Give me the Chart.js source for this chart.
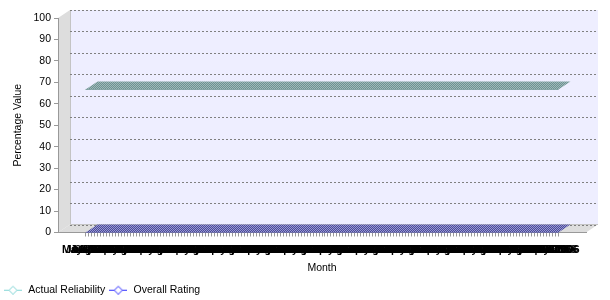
<!DOCTYPE html>
<html lang="en">
<head>
  <meta charset="UTF-8">
  <title>Actual Reliability vs Overall Rating</title>
  <script src="https://cdn.jsdelivr.net/npm/chart.js"></script>
  <style>
    html, body { margin: 0; padding: 0; background: #fff; }
  </style>
</head>
<body>
<canvas id="chart" width="610" height="300"></canvas>
<script>
  // Categories (one per month)
  const months = [
    'May-1993', 'Jun-1993', 'Jul-1993', 'Aug-1993', 'Sep-1993', 'Oct-1993', 'Nov-1993', 'Dec-1993',
    'Jan-1994', 'Feb-1994', 'Mar-1994', 'Apr-1994', 'May-1994', 'Jun-1994', 'Jul-1994', 'Aug-1994', 'Sep-1994', 'Oct-1994', 'Nov-1994', 'Dec-1994',
    'Jan-1995', 'Feb-1995', 'Mar-1995', 'Apr-1995', 'May-1995', 'Jun-1995', 'Jul-1995', 'Aug-1995', 'Sep-1995', 'Oct-1995', 'Nov-1995', 'Dec-1995',
    'Jan-1996', 'Feb-1996', 'Mar-1996', 'Apr-1996', 'May-1996', 'Jun-1996', 'Jul-1996', 'Aug-1996', 'Sep-1996', 'Oct-1996', 'Nov-1996', 'Dec-1996',
    'Jan-1997', 'Feb-1997', 'Mar-1997', 'Apr-1997', 'May-1997', 'Jun-1997', 'Jul-1997', 'Aug-1997', 'Sep-1997', 'Oct-1997', 'Nov-1997', 'Dec-1997',
    'Jan-1998', 'Feb-1998', 'Mar-1998', 'Apr-1998', 'May-1998', 'Jun-1998', 'Jul-1998', 'Aug-1998', 'Sep-1998', 'Oct-1998', 'Nov-1998', 'Dec-1998',
    'Jan-1999', 'Feb-1999', 'Mar-1999', 'Apr-1999', 'May-1999', 'Jun-1999', 'Jul-1999', 'Aug-1999', 'Sep-1999', 'Oct-1999', 'Nov-1999', 'Dec-1999',
    'Jan-2000', 'Feb-2000', 'Mar-2000', 'Apr-2000', 'May-2000', 'Jun-2000', 'Jul-2000', 'Aug-2000', 'Sep-2000', 'Oct-2000', 'Nov-2000', 'Dec-2000',
    'Jan-2001', 'Feb-2001', 'Mar-2001', 'Apr-2001', 'May-2001', 'Jun-2001', 'Jul-2001', 'Aug-2001', 'Sep-2001', 'Oct-2001', 'Nov-2001', 'Dec-2001',
    'Jan-2002', 'Feb-2002', 'Mar-2002', 'Apr-2002', 'May-2002', 'Jun-2002', 'Jul-2002', 'Aug-2002', 'Sep-2002', 'Oct-2002', 'Nov-2002', 'Dec-2002',
    'Jan-2003', 'Feb-2003', 'Mar-2003', 'Apr-2003', 'May-2003', 'Jun-2003', 'Jul-2003', 'Aug-2003', 'Sep-2003', 'Oct-2003', 'Nov-2003', 'Dec-2003',
    'Jan-2004', 'Feb-2004', 'Mar-2004', 'Apr-2004', 'May-2004', 'Jun-2004', 'Jul-2004', 'Aug-2004', 'Sep-2004', 'Oct-2004', 'Nov-2004', 'Dec-2004',
    'Jan-2005', 'Feb-2005', 'Mar-2005', 'Apr-2005', 'May-2005', 'Jun-2005', 'Jul-2005', 'Aug-2005', 'Sep-2005', 'Oct-2005', 'Nov-2005', 'Dec-2005',
    'Jan-2006', 'Feb-2006', 'Mar-2006', 'Apr-2006', 'May-2006', 'Jun-2006', 'Jul-2006'
  ];

  // Series values (%), same row layout as months
  const actualReliability = [
    66.7, 66.7, 66.7, 66.7, 66.7, 66.7, 66.7, 66.7,
    66.7, 66.7, 66.7, 66.7, 66.7, 66.7, 66.7, 66.7, 66.7, 66.7, 66.7, 66.7,
    66.7, 66.7, 66.7, 66.7, 66.7, 66.7, 66.7, 66.7, 66.7, 66.7, 66.7, 66.7,
    66.7, 66.7, 66.7, 66.7, 66.7, 66.7, 66.7, 66.7, 66.7, 66.7, 66.7, 66.7,
    66.7, 66.7, 66.7, 66.7, 66.7, 66.7, 66.7, 66.7, 66.7, 66.7, 66.7, 66.7,
    66.7, 66.7, 66.7, 66.7, 66.7, 66.7, 66.7, 66.7, 66.7, 66.7, 66.7, 66.7,
    66.7, 66.7, 66.7, 66.7, 66.7, 66.7, 66.7, 66.7, 66.7, 66.7, 66.7, 66.7,
    66.7, 66.7, 66.7, 66.7, 66.7, 66.7, 66.7, 66.7, 66.7, 66.7, 66.7, 66.7,
    66.7, 66.7, 66.7, 66.7, 66.7, 66.7, 66.7, 66.7, 66.7, 66.7, 66.7, 66.7,
    66.7, 66.7, 66.7, 66.7, 66.7, 66.7, 66.7, 66.7, 66.7, 66.7, 66.7, 66.7,
    66.7, 66.7, 66.7, 66.7, 66.7, 66.7, 66.7, 66.7, 66.7, 66.7, 66.7, 66.7,
    66.7, 66.7, 66.7, 66.7, 66.7, 66.7, 66.7, 66.7, 66.7, 66.7, 66.7, 66.7,
    66.7, 66.7, 66.7, 66.7, 66.7, 66.7, 66.7, 66.7, 66.7, 66.7, 66.7, 66.7,
    66.7, 66.7, 66.7, 66.7, 66.7, 66.7, 66.7
  ];
  const overallRating = [
    0, 0, 0, 0, 0, 0, 0, 0,
    0, 0, 0, 0, 0, 0, 0, 0, 0, 0, 0, 0,
    0, 0, 0, 0, 0, 0, 0, 0, 0, 0, 0, 0,
    0, 0, 0, 0, 0, 0, 0, 0, 0, 0, 0, 0,
    0, 0, 0, 0, 0, 0, 0, 0, 0, 0, 0, 0,
    0, 0, 0, 0, 0, 0, 0, 0, 0, 0, 0, 0,
    0, 0, 0, 0, 0, 0, 0, 0, 0, 0, 0, 0,
    0, 0, 0, 0, 0, 0, 0, 0, 0, 0, 0, 0,
    0, 0, 0, 0, 0, 0, 0, 0, 0, 0, 0, 0,
    0, 0, 0, 0, 0, 0, 0, 0, 0, 0, 0, 0,
    0, 0, 0, 0, 0, 0, 0, 0, 0, 0, 0, 0,
    0, 0, 0, 0, 0, 0, 0, 0, 0, 0, 0, 0,
    0, 0, 0, 0, 0, 0, 0, 0, 0, 0, 0, 0,
    0, 0, 0, 0, 0, 0, 0
  ];

  const yMin = 0, yMax = 100, yStep = 10;

  // 3D depth of the plot (back wall offset)
  const DX = 12, DY = -8;
  const FONT = "'Liberation Sans', Arial, sans-serif";

  // legend icon: short line with a hollow diamond
  function legendIcon(color) {
    const c = document.createElement('canvas');
    c.width = 18; c.height = 10;
    const g = c.getContext('2d');
    g.strokeStyle = color;
    g.lineWidth = 1;
    g.beginPath(); g.moveTo(0, 5.5); g.lineTo(18, 5.5); g.stroke();
    g.fillStyle = '#fff';
    g.beginPath();
    g.moveTo(9, 1.5); g.lineTo(13, 5.5); g.lineTo(9, 9.5); g.lineTo(5, 5.5); g.closePath();
    g.fill(); g.stroke();
    return c;
  }

  // dithered fill like the original gif
  function dither(ctx, a, b) {
    const c = document.createElement('canvas');
    c.width = 2; c.height = 2;
    const g = c.getContext('2d');
    g.fillStyle = a; g.fillRect(0, 0, 2, 2);
    g.fillStyle = b; g.fillRect(0, 0, 1, 1); g.fillRect(1, 1, 1, 1);
    return ctx.createPattern(c, 'repeat');
  }

  const ribbonColors = [['#6a9494', '#a2b6b6'], ['#4848a0', '#9a9acb']];

  const depthPlugin = {
    id: 'depth',
    beforeDraw(chart) {
      const { ctx, chartArea: a, scales: { y } } = chart;
      ctx.save();
      // back wall
      ctx.fillStyle = '#eeeeff';
      ctx.fillRect(a.left + DX, a.top + DY, a.right - a.left, a.bottom - a.top);
      // left wall + floor
      ctx.fillStyle = '#dddddd';
      ctx.beginPath();
      ctx.moveTo(a.left, a.top); ctx.lineTo(a.left + DX, a.top + DY);
      ctx.lineTo(a.left + DX, a.bottom + DY); ctx.lineTo(a.left, a.bottom);
      ctx.closePath(); ctx.fill();
      ctx.beginPath();
      ctx.moveTo(a.left, a.bottom); ctx.lineTo(a.left + DX, a.bottom + DY);
      ctx.lineTo(a.right + DX, a.bottom + DY); ctx.lineTo(a.right, a.bottom);
      ctx.closePath(); ctx.fill();
      ctx.strokeStyle = '#c4c4c4';
      ctx.lineWidth = 1;
      ctx.beginPath();
      ctx.moveTo(a.left + DX + 0.5, a.top + DY); ctx.lineTo(a.left + DX + 0.5, a.bottom + DY);
      ctx.lineTo(a.right + DX, a.bottom + DY);
      ctx.stroke();
      // dashed gridlines on the back wall
      ctx.setLineDash([2, 2]);
      ctx.strokeStyle = '#808080';
      y.ticks.forEach(t => {
        const py = Math.round(y.getPixelForValue(t.value) + DY) + 0.5;
        ctx.beginPath();
        ctx.moveTo(a.left + DX, py); ctx.lineTo(a.right + DX, py);
        ctx.stroke();
      });
      ctx.restore();
    },
    beforeDatasetsDraw(chart) {
      const ctx = chart.ctx;
      chart.data.datasets.forEach((ds, di) => {
        const meta = chart.getDatasetMeta(di);
        if (meta.hidden) return;
        const pts = meta.data;
        ctx.save();
        ctx.fillStyle = dither(ctx, ribbonColors[di][0], ribbonColors[di][1]);
        ctx.beginPath();
        pts.forEach((p, i) => i ? ctx.lineTo(p.x, p.y) : ctx.moveTo(p.x, p.y));
        for (let i = pts.length - 1; i >= 0; i--) ctx.lineTo(pts[i].x + DX, pts[i].y + DY);
        ctx.closePath();
        ctx.fill();
        ctx.restore();
      });
    }
  };

  const toPoints = vals => vals.map((v, i) => ({ x: i, y: v }));

  Chart.defaults.font.family = FONT;
  Chart.defaults.font.size = 10.5;
  Chart.defaults.color = '#000';

  new Chart(document.getElementById('chart'), {
    type: 'line',
    data: {
      datasets: [
        {
          label: 'Actual Reliability',
          data: toPoints(actualReliability),
          borderColor: '#7f9f9f',
          borderWidth: 1,
          pointRadius: 0,
          pointStyle: legendIcon('#7fd4d4'),
          fill: false
        },
        {
          label: 'Overall Rating',
          data: toPoints(overallRating),
          borderColor: '#5a5aa8',
          borderWidth: 1,
          pointRadius: 0,
          pointStyle: legendIcon('#2a2aff'),
          fill: false
        }
      ]
    },
    options: {
      responsive: false,
      animation: false,
      layout: { padding: { left: 0, right: 24, top: 18, bottom: -5 } },
      plugins: {
        tooltip: { enabled: false },
        legend: {
          position: 'bottom',
          align: 'start',
          labels: {
            usePointStyle: true,
            pointStyleWidth: 20,
            padding: 3,
            font: { size: 10.5 },
            color: '#000'
          }
        }
      },
      scales: {
        x: {
          type: 'linear',
          min: -9.2,
          max: months.length - 1 + 9.2,
          afterBuildTicks: s => { s.ticks = months.map((m, i) => ({ value: i })); },
          afterFit: s => { s.height = 49; },
          ticks: {
            autoSkip: false,
            maxRotation: 0,
            minRotation: 0,
            padding: 7,
            color: '#000',
            font: { size: 10.5, weight: 'bold' },
            callback: v => months[v]
          },
          grid: { drawOnChartArea: false, drawTicks: true, tickLength: 4, color: '#999' },
          border: { display: true, color: '#999' },
          title: { display: true, text: 'Month', color: '#000', font: { size: 10.5 }, padding: { top: 0, bottom: 7 } }
        },
        y: {
          min: yMin,
          max: yMax,
          afterFit: s => { s.width = 58; },
          ticks: { stepSize: yStep, padding: 3, color: '#000' },
          grid: { drawOnChartArea: false, drawTicks: true, tickLength: 4, color: '#999' },
          border: { display: true, color: '#999' },
          title: { display: true, text: 'Percentage Value', color: '#000', font: { size: 10.5 }, padding: { top: 12, bottom: 0 } }
        }
      }
    },
    plugins: [depthPlugin]
  });
</script>
</body>
</html>
